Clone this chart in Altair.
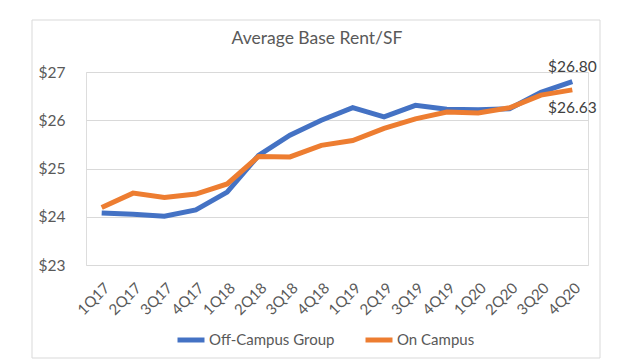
import altair as alt
import pandas as pd

quarters = ["1Q17", "2Q17", "3Q17", "4Q17", "1Q18", "2Q18", "3Q18", "4Q18",
            "1Q19", "2Q19", "3Q19", "4Q19", "1Q20", "2Q20", "3Q20", "4Q20"]
off_campus = [24.08, 24.05, 24.01, 24.14, 24.51, 25.27, 25.69, 26.00,
              26.26, 26.07, 26.31, 26.23, 26.22, 26.24, 26.58, 26.80]
on_campus = [24.19, 24.49, 24.40, 24.47, 24.68, 25.25, 25.24, 25.48,
             25.58, 25.83, 26.03, 26.17, 26.15, 26.26, 26.52, 26.63]
series_names = ["Off-Campus Group", "On Campus"]
colors = ["#4472C4", "#ED7D31"]
y_ticks = [23, 24, 25, 26, 27]

rows = []
for q, a, b in zip(quarters, off_campus, on_campus):
    rows.append({"quarter": q, "series": series_names[0], "value": a})
    rows.append({"quarter": q, "series": series_names[1], "value": b})
df = pd.DataFrame(rows)

FONT = "Lato"
GREY = "#595959"

x_enc = alt.X("quarter:N", sort=quarters, title=None,
              scale=alt.Scale(type="point", padding=0.5),
              axis=alt.Axis(labelAngle=-45, labelFontSize=15, labelColor=GREY,
                            labelFont=FONT, domain=False, ticks=False, grid=False,
                            labelPadding=15))
y_enc = alt.Y("value:Q", title=None,
              scale=alt.Scale(domain=[23, 27], nice=False, zero=False),
              axis=alt.Axis(values=y_ticks, format="$.0f", labelFontSize=15.5,
                            labelColor=GREY, labelFont=FONT, domain=False, ticks=False,
                            gridColor="#d9d9d9", gridWidth=1, labelPadding=21))

border = alt.Chart(pd.DataFrame({"k": [0]})).mark_rect(
    fill=None, stroke="#d9d9d9", strokeWidth=1
).encode(x=alt.value(-54), x2=alt.value(514), y=alt.value(-52), y2=alt.value(286))

lines = alt.Chart(df).mark_line(strokeWidth=5).encode(
    x=x_enc,
    y=y_enc,
    color=alt.Color("series:N", sort=series_names,
                    scale=alt.Scale(domain=series_names, range=colors),
                    legend=alt.Legend(title=None, orient="none", legendX=89, legendY=252,
                                      direction="horizontal", symbolType="stroke",
                                      symbolStrokeWidth=5, symbolSize=729,
                                      labelFontSize=15, labelColor=GREY, labelFont=FONT,
                                      labelOffset=2, columnPadding=20, labelLimit=300)),
    detail="series:N",
)

end_off = pd.DataFrame({"quarter": [quarters[-1]], "value": [off_campus[-1]],
                        "label": [f"${off_campus[-1]:.2f}"]})
end_on = pd.DataFrame({"quarter": [quarters[-1]], "value": [on_campus[-1]],
                       "label": [f"${on_campus[-1]:.2f}"]})

lab_off = alt.Chart(end_off).mark_text(dy=-15, fontSize=15.5, font=FONT, color="#404040").encode(
    x=alt.X("quarter:N", sort=quarters), y="value:Q", text="label:N")
lab_on = alt.Chart(end_on).mark_text(dy=18, fontSize=15.5, font=FONT, color="#404040").encode(
    x=alt.X("quarter:N", sort=quarters), y="value:Q", text="label:N")

chart = alt.layer(border, lines, lab_off, lab_on).properties(
    width=502, height=193,
    autosize=alt.AutoSizeParams(type="none"),
    padding={"left": 78, "top": 64, "right": 44, "bottom": 96},
    title=alt.TitleParams("Average Base Rent/SF", fontSize=17.5, color=GREY, font=FONT,
                          fontWeight="normal", anchor="middle", frame="group",
                          dx=-20, offset=-28),
).configure_view(stroke=None).configure(background="white")

chart.save("out.html", embed_options={"renderer": "svg", "actions": False})
